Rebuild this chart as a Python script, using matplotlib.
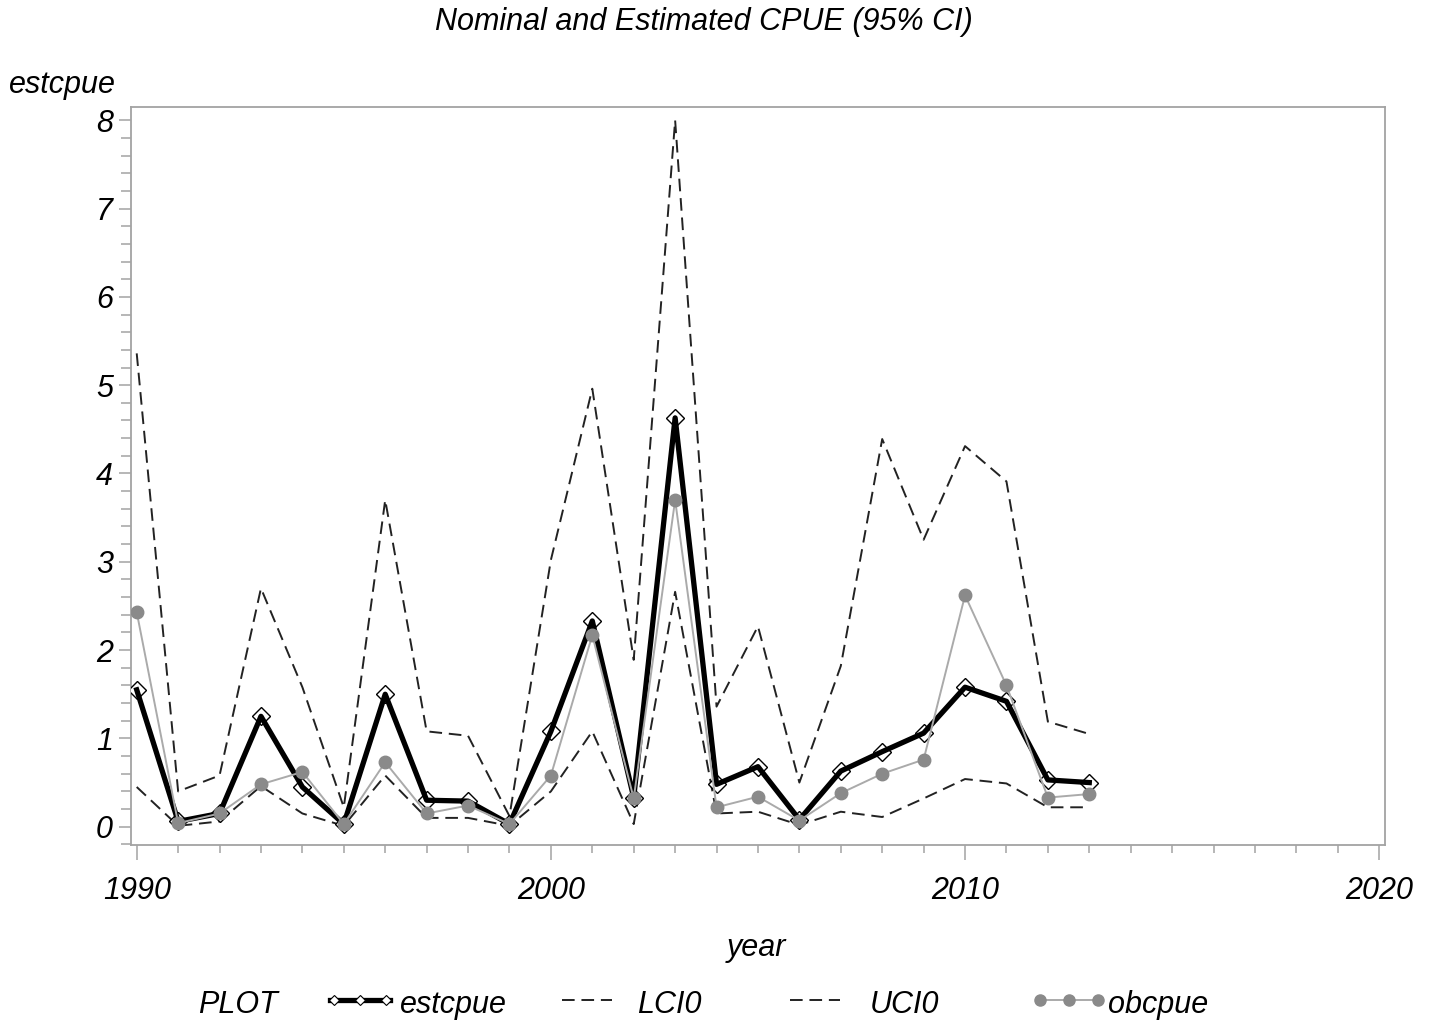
import matplotlib
matplotlib.use("Agg")
import matplotlib.pyplot as plt
from matplotlib.ticker import MultipleLocator

plt.rcParams['font.family'] = ['Liberation Sans Narrow', 'Liberation Sans', 'DejaVu Sans']
plt.rcParams['font.style'] = 'italic'

# ---- CPUE series by year ----
years = list(range(1990, 2014))
estcpue = [1.55, 0.06, 0.15, 1.25, 0.45, 0.03, 1.50, 0.30, 0.29, 0.03,
           1.08, 2.33, 0.33, 4.63, 0.48, 0.68, 0.08, 0.63, 0.85, 1.06,
           1.58, 1.42, 0.53, 0.50]
obcpue = [2.43, 0.04, 0.15, 0.48, 0.62, 0.03, 0.73, 0.15, 0.24, 0.03,
          0.58, 2.17, 0.32, 3.70, 0.22, 0.34, 0.07, 0.38, 0.60, 0.76,
          2.62, 1.60, 0.33, 0.37]
lci0 = [0.45, 0.01, 0.06, 0.46, 0.15, 0.01, 0.58, 0.10, 0.10, 0.01,
        0.40, 1.08, 0.03, 2.66, 0.15, 0.17, 0.02, 0.17, 0.11, 0.32,
        0.54, 0.49, 0.22, 0.22]
uci0 = [5.36, 0.40, 0.58, 2.70, 1.58, 0.22, 3.70, 1.08, 1.03, 0.12,
        3.02, 4.96, 1.89, 8.00, 1.36, 2.27, 0.50, 1.82, 4.39, 3.25,
        4.31, 3.91, 1.19, 1.05]

y_ticks = list(range(0, 9))
x_ticks = [1990, 2000, 2010, 2020]

W, H = 1433, 1027
AXIS_GREY = '#a3a3a3'
DOT_GREY = '#8a8a8a'
LINE_GREY = '#aaaaaa'
FS = 22

fig = plt.figure(figsize=(W / 100, H / 100), dpi=100)
ax = fig.add_axes([131 / W, 1 - 845 / H, 1254 / W, 738 / H])

dash = (0, (6.5, 3.5))
ax.plot(years, lci0, color='#222222', lw=1.4, ls=dash, zorder=2)
ax.plot(years, uci0, color='#222222', lw=1.4, ls=dash, zorder=2)

# estimated CPUE: hollow diamonds under a heavy black line
ax.plot(years, estcpue, ls='none', marker='D', ms=9.5, mfc='white',
        mec='black', mew=1.0, zorder=3)
ax.plot(years, estcpue, color='black', lw=3.8, zorder=4)

# nominal CPUE
ax.plot(years, obcpue, color=LINE_GREY, lw=1.4, marker='o', ms=9,
        mfc=DOT_GREY, mec=DOT_GREY, zorder=5)

ax.set_xlim(1989.862, 2020.14)
ax.set_ylim(-0.207, 8.15)
ax.set_xticks(x_ticks)
ax.set_yticks(y_ticks)
ax.xaxis.set_minor_locator(MultipleLocator(1))
ax.yaxis.set_minor_locator(MultipleLocator(0.2))

for s in ax.spines.values():
    s.set_color(AXIS_GREY)
    s.set_linewidth(1.3)
ax.tick_params(which='both', color=AXIS_GREY, width=1.1, labelsize=FS)
ax.tick_params(axis='x', which='major', length=11, pad=11)
ax.tick_params(axis='x', which='minor', length=6)
ax.tick_params(axis='y', which='major', length=9, pad=4)
ax.tick_params(axis='y', which='minor', length=7)

fig.text(62 / W, 1 - 85 / H, 'estcpue', fontsize=FS, ha='center', va='center')
fig.text(704 / W, 1 - 22 / H, 'Nominal and Estimated CPUE (95% CI)',
         fontsize=FS, ha='center', va='center')
fig.text(756 / W, 1 - 948 / H, 'year', fontsize=FS, ha='center', va='center')

# ---- legend row along the bottom ----
lax = fig.add_axes([0, 0, 1, 60 / H])
lax.set_xlim(0, W)
lax.set_ylim(0, 60)
lax.axis('off')
ly = 1027 - 1000
ty = 1027 - 1005
lax.text(198, ty, 'PLOT', fontsize=FS, va='center', ha='left')

lax.plot([330, 390], [ly, ly], color='black', lw=3.8)
lax.plot([334, 360, 386], [ly] * 3, ls='none', marker='D', ms=5,
         mfc='white', mec='black', mew=0.8)
lax.text(400, ty, 'estcpue', fontsize=FS, va='center', ha='left')

lax.plot([562, 612], [ly, ly], color='#222222', lw=1.4, ls=dash)
lax.text(637, ty, 'LCI0', fontsize=FS, va='center', ha='left')

lax.plot([790, 840], [ly, ly], color='#222222', lw=1.4, ls=dash)
lax.text(870, ty, 'UCI0', fontsize=FS, va='center', ha='left')

lax.plot([1038, 1098], [ly, ly], color=LINE_GREY, lw=1.4)
lax.plot([1040, 1069, 1098], [ly] * 3, ls='none', marker='o', ms=8,
         mfc=DOT_GREY, mec=DOT_GREY)
lax.text(1108, ty, 'obcpue', fontsize=FS, va='center', ha='left')

fig.savefig('out.png', dpi=100)
